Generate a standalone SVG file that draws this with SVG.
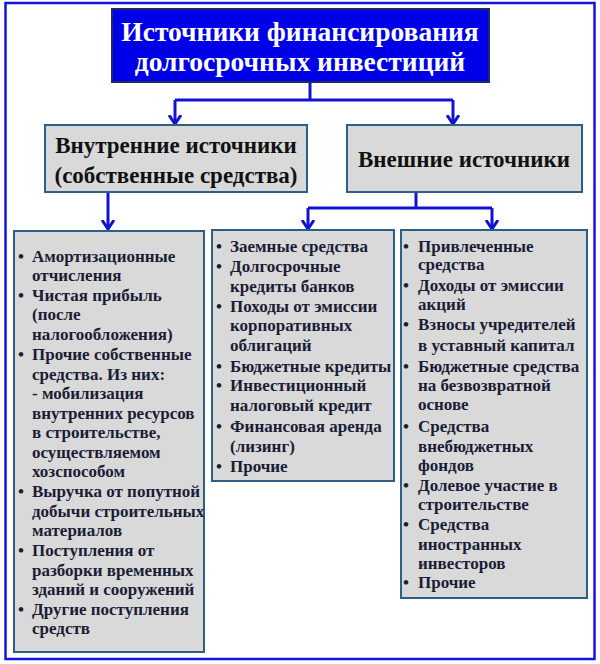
<svg xmlns="http://www.w3.org/2000/svg" width="600" height="664" viewBox="0 0 600 664">
<style>
.frame{fill:#ffffff;stroke:#1414e0;stroke-width:2.5}
.title{fill:#0000e8;stroke:#1c2a66;stroke-width:2}
.box{fill:#d9d9d9;stroke:#2e5f86;stroke-width:2}
.tt{font-family:"Liberation Serif","Times New Roman",serif;font-weight:bold;font-size:27.5px;fill:#ffffff;text-anchor:middle}
.h2{font-family:"Liberation Serif","Times New Roman",serif;font-weight:bold;font-size:23px;fill:#111111;text-anchor:middle}
.li{font-family:"Liberation Serif","Times New Roman",serif;font-weight:bold;font-size:17px;fill:#1a1d36}
.con{fill:none;stroke:#1212d4;stroke-width:3}
</style>
<defs>
<marker id="arr" viewBox="0 0 10 14" refX="9" refY="7" markerUnits="userSpaceOnUse" markerWidth="10" markerHeight="14" orient="auto">
<path d="M0,1 L9,7 L0,13" fill="none" stroke="#1212d4" stroke-width="3"/>
</marker>
</defs>
<rect class="frame" x="5.5" y="3" width="589" height="656"/>
<g id="connectors">
<path class="con" d="M310,82 V100"/>
<path class="con" d="M175,100 H453"/>
<path class="con" d="M175,100 V124" marker-end="url(#arr)"/>
<path class="con" d="M453,100 V124" marker-end="url(#arr)"/>
<path class="con" d="M108,192 V229" marker-end="url(#arr)"/>
<path class="con" d="M416,192 V208"/>
<path class="con" d="M308,208 H492"/>
<path class="con" d="M308,208 V229" marker-end="url(#arr)"/>
<path class="con" d="M492,208 V229" marker-end="url(#arr)"/>
</g>
<g id="title">
<rect class="title" x="112" y="9" width="377" height="73"/>
<text class="tt" x="300" y="41">Источники финансирования</text>
<text class="tt" x="300" y="71">долгосрочных инвестиций</text>
</g>
<g id="internal">
<rect class="box" x="45" y="125" width="262" height="67"/>
<text class="h2" x="176" y="153">Внутренние источники</text>
<text class="h2" x="176" y="183">(собственные средства)</text>
</g>
<g id="external">
<rect class="box" x="347" y="125" width="235" height="67"/>
<text class="h2" x="464" y="167">Внешние источники</text>
</g>
<g id="internal-list">
<rect class="box" x="14" y="231" width="190" height="421"/>
<text class="li" x="18" y="262">•</text><text class="li" x="32" y="262">Амортизационные</text>
<text class="li" x="32" y="281">отчисления</text>
<text class="li" x="18" y="301">•</text><text class="li" x="32" y="301">Чистая прибыль</text>
<text class="li" x="32" y="320">(после</text>
<text class="li" x="32" y="340">налогообложения)</text>
<text class="li" x="18" y="360">•</text><text class="li" x="32" y="360">Прочие собственные</text>
<text class="li" x="32" y="380">средства. Из них:</text>
<text class="li" x="32" y="399">- мобилизация</text>
<text class="li" x="32" y="419">внутренних ресурсов</text>
<text class="li" x="32" y="438">в строительстве,</text>
<text class="li" x="32" y="458">осуществляемом</text>
<text class="li" x="32" y="477">хозспособом</text>
<text class="li" x="18" y="497">•</text><text class="li" x="32" y="497">Выручка от попутной</text>
<text class="li" x="32" y="517">добычи строительных</text>
<text class="li" x="32" y="536">материалов</text>
<text class="li" x="18" y="556">•</text><text class="li" x="32" y="556">Поступления от</text>
<text class="li" x="32" y="576">разборки временных</text>
<text class="li" x="32" y="595">зданий и сооружений</text>
<text class="li" x="18" y="615">•</text><text class="li" x="32" y="615">Другие поступления</text>
<text class="li" x="32" y="634">средств</text>
</g>
<g id="borrowed-list">
<rect class="box" x="212" y="230" width="182" height="251"/>
<text class="li" x="216" y="252">•</text><text class="li" x="230" y="252">Заемные средства</text>
<text class="li" x="216" y="272">•</text><text class="li" x="230" y="272">Долгосрочные</text>
<text class="li" x="230" y="292">кредиты банков</text>
<text class="li" x="216" y="312">•</text><text class="li" x="230" y="312">Походы от эмиссии</text>
<text class="li" x="230" y="331">корпоративных</text>
<text class="li" x="230" y="351">облигаций</text>
<text class="li" x="216" y="372">•</text><text class="li" x="230" y="372">Бюджетные кредиты</text>
<text class="li" x="216" y="391">•</text><text class="li" x="230" y="391">Инвестиционный</text>
<text class="li" x="230" y="411">налоговый кредит</text>
<text class="li" x="216" y="432">•</text><text class="li" x="230" y="432">Финансовая аренда</text>
<text class="li" x="230" y="452">(лизинг)</text>
<text class="li" x="216" y="472">•</text><text class="li" x="230" y="472">Прочие</text>
</g>
<g id="attracted-list">
<rect class="box" x="401" y="230" width="186" height="368"/>
<text class="li" x="403" y="252">•</text><text class="li" x="418" y="252">Привлеченные</text>
<text class="li" x="418" y="270">средства</text>
<text class="li" x="403" y="291">•</text><text class="li" x="418" y="291">Доходы от эмиссии</text>
<text class="li" x="418" y="310">акций</text>
<text class="li" x="403" y="330">•</text><text class="li" x="418" y="330">Взносы учредителей</text>
<text class="li" x="418" y="351">в уставный капитал</text>
<text class="li" x="403" y="372">•</text><text class="li" x="418" y="372">Бюджетные средства</text>
<text class="li" x="418" y="391">на безвозвратной</text>
<text class="li" x="418" y="410">основе</text>
<text class="li" x="403" y="432">•</text><text class="li" x="418" y="432">Средства</text>
<text class="li" x="418" y="452">внебюджетных</text>
<text class="li" x="418" y="471">фондов</text>
<text class="li" x="403" y="491">•</text><text class="li" x="418" y="491">Долевое участие в</text>
<text class="li" x="418" y="510">строительстве</text>
<text class="li" x="403" y="530">•</text><text class="li" x="418" y="530">Средства</text>
<text class="li" x="418" y="550">иностранных</text>
<text class="li" x="418" y="569">инвесторов</text>
<text class="li" x="403" y="588">•</text><text class="li" x="418" y="588">Прочие</text>
</g>
</svg>
